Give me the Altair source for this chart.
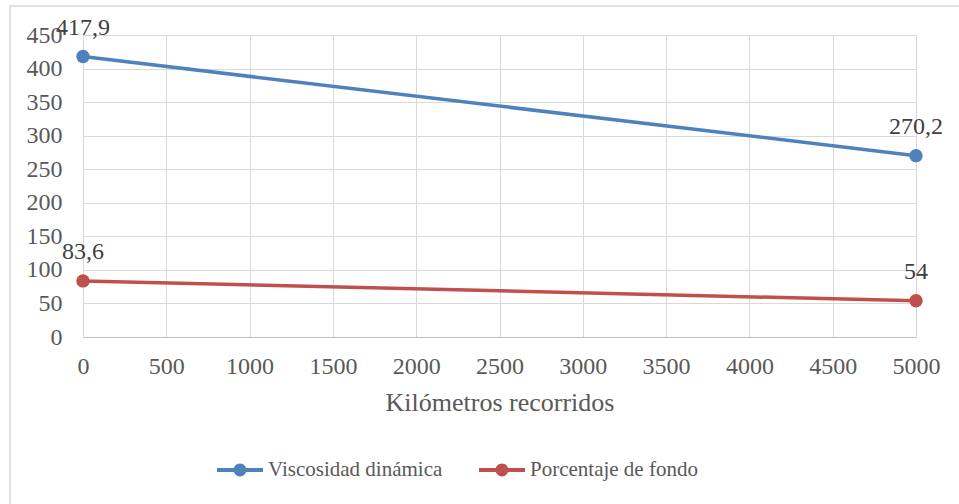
import altair as alt
import pandas as pd

km = [0, 5000]
viscosidad = [417.9, 270.2]
fondo = [83.6, 54]
series_names = ["Viscosidad dinámica", "Porcentaje de fondo"]
colors = ["#4f81bd", "#c0504d"]
x_ticks = list(range(0, 5001, 500))
y_ticks = list(range(0, 451, 50))

rows = []
for name, vals in zip(series_names, [viscosidad, fondo]):
    for k, v in zip(km, vals):
        rows.append({"serie": name, "km": k, "valor": v,
                     "etiqueta": (f"{v:g}").replace(".", ",")})
df = pd.DataFrame(rows)

FONT = "Liberation Serif"
color_scale = alt.Scale(domain=series_names, range=colors)

x_enc = alt.X("km:Q", scale=alt.Scale(domain=[0, 5000], nice=False),
              axis=alt.Axis(values=x_ticks, format="d", title="Kilómetros recorridos",
                            labelFontSize=24, titleFontSize=26, labelFont=FONT,
                            titleFont=FONT, labelColor="#595959", titleColor="#595959",
                            titleFontWeight="normal", ticks=False, labelPadding=17,
                            titlePadding=11, domainColor="#bfbfbf", grid=True,
                            gridColor="#d9d9d9", labelFlush=False))
y_enc = alt.Y("valor:Q", scale=alt.Scale(domain=[0, 450], nice=False),
              axis=alt.Axis(values=y_ticks, format="d", title=None, labelFontSize=24,
                            labelFont=FONT, labelColor="#595959", ticks=False,
                            labelPadding=21, domain=False, grid=True,
                            gridColor="#d9d9d9"))

base = alt.Chart(df)

lines = base.mark_line(strokeWidth=3.5).encode(
    x=x_enc, y=y_enc,
    color=alt.Color("serie:N", scale=color_scale, legend=None),
    detail="serie:N",
)

legend_path = ("M-1,-0.087H1V0.087H-1Z "
               "M0.28,0A0.28,0.28,0,1,1,-0.28,0A0.28,0.28,0,1,1,0.28,0Z")

points = base.mark_point(filled=True, size=180, opacity=1).encode(
    x=x_enc, y=y_enc,
    fill=alt.Fill("serie:N", scale=color_scale,
                  legend=alt.Legend(title=None, orient="none", direction="horizontal",
                                    legendX=134, legendY=412, symbolType=legend_path,
                                    symbolSize=2116, symbolStrokeWidth=0,
                                    labelFont=FONT, labelFontSize=21, labelLimit=0,
                                    labelColor="#595959", labelOffset=5,
                                    columnPadding=36, padding=0)),
)

labels = base.mark_text(font=FONT, fontSize=24, color="#404040", dy=-22,
                        baseline="alphabetic", align="center").encode(
    x=x_enc, y=y_enc, text="etiqueta:N"
)

border = alt.Chart(pd.DataFrame({"a": [0]})).mark_rect(
    fill=None, stroke="#d9d9d9", strokeWidth=1.5
).encode(x=alt.value(-73), y=alt.value(-29), x2=alt.value(920), y2=alt.value(500))

chart = alt.layer(border, lines, points, labels).resolve_scale(
    color="independent", fill="independent"
).resolve_legend(color="independent", fill="independent").properties(
    width=833, height=302,
    autosize=alt.AutoSizeParams(type="none"),
    padding={"left": 83, "top": 35, "right": 43, "bottom": 167},
).configure_view(stroke=None).configure(background="white")

chart.save("out.html", embed_options={"renderer": "svg", "actions": False})
